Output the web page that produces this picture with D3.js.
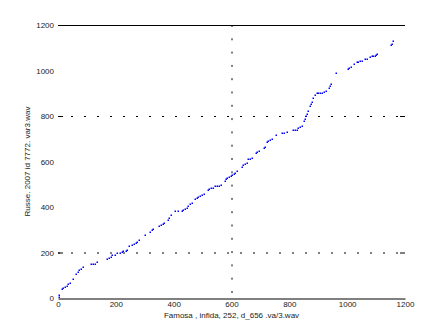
<!DOCTYPE html>
<html>
<head>
<meta charset="utf-8">
<script src="https://cdn.jsdelivr.net/npm/d3@7"></script>
<style>
  body { margin: 0; background: #fff; }
  text { font-family: "Liberation Sans", Arial, sans-serif; }
</style>
</head>
<body>
<div id="chart"></div>
<script>
var svgWidth = 447;
var svgHeight = 335;

// quantile values
var xValues = [3, 3, 13, 18, 24, 30, 35, 41, 53, 61, 68, 73, 80, 86, 114, 121, 128, 136,
  170, 176, 182, 188, 197, 203, 214, 220, 226, 234, 238, 246, 255, 263, 269, 273, 280,
  301, 318, 324, 330, 350, 355, 362, 368, 381, 385, 392, 405, 415, 428, 433, 439, 445,
  451, 456, 462, 474, 480, 485, 491, 498, 505, 518, 523, 529, 535, 543, 550, 558, 565,
  576, 581, 586, 592, 597, 602, 607, 612, 618, 635, 641, 647, 653, 658, 664, 670, 684,
  689, 696, 713, 716, 722, 727, 733, 739, 754, 776, 782, 791, 812, 819, 825, 830, 837,
  843, 851, 854, 858, 860, 866, 871, 875, 878, 883, 889, 895, 900, 906, 912, 920, 928,
  938, 941, 945, 961, 1002, 1006, 1012, 1025, 1033, 1038, 1046, 1050, 1063, 1067, 1079,
  1085, 1090, 1096, 1100, 1104, 1150, 1155, 1160];
var yValues = [6, 12, 40, 45, 50, 54, 60, 65, 82, 106, 116, 123, 129, 135, 150, 150, 150, 157,
  170, 175, 179, 189, 189, 199, 199, 202, 205, 205, 212, 227, 233, 237, 242, 246, 255,
  275, 291, 298, 303, 317, 321, 324, 330, 343, 350, 364, 381, 381, 381, 387, 391, 397,
  404, 412, 418, 434, 438, 443, 447, 453, 456, 473, 479, 482, 485, 492, 492, 492, 498,
  516, 521, 526, 531, 536, 541, 546, 551, 560, 577, 585, 589, 595, 610, 611, 617, 636,
  641, 645, 659, 665, 687, 691, 696, 700, 717, 724, 727, 728, 740, 740, 740, 747, 753,
  757, 776, 788, 798, 809, 822, 844, 853, 863, 878, 892, 900, 900, 900, 903, 907, 912,
  922, 932, 939, 988, 1005, 1011, 1017, 1027, 1036, 1036, 1042, 1042, 1049, 1049, 1058,
  1064, 1064, 1064, 1067, 1073, 1112, 1117, 1128];

var tickValues = [0, 200, 400, 600, 800, 1000, 1200];
var gridY = [200, 800];
var gridX = [600];

var xLabel = "Famosa , infida, 252, d_656 .va/3.wav";
var yLabel = "Russe. 2007 id 7772. var3.wav";

var svg = d3.select("#chart")
  .append("svg")
  .attr("width", svgWidth)
  .attr("height", svgHeight);

var x = d3.scaleLinear().domain([0, 1200]).range([58, 405]);
var y = d3.scaleLinear().domain([0, 1200]).range([298, 25]);

// dotted grid lines
svg.selectAll(".gy")
  .data(gridY)
  .enter()
  .append("line")
  .attr("x1", x(0))
  .attr("x2", x(1200))
  .attr("y1", d => y(d) + 0.5)
  .attr("y2", d => y(d) + 0.5)
  .attr("stroke", "#000")
  .attr("stroke-dasharray", "2,11");

svg.selectAll(".gx")
  .data(gridX)
  .enter()
  .append("line")
  .attr("x1", d => x(d) + 0.5)
  .attr("x2", d => x(d) + 0.5)
  .attr("y1", y(1200))
  .attr("y2", y(0))
  .attr("stroke", "#000")
  .attr("stroke-dasharray", "2,11.3");

// short tick marks on grid lines
gridY.forEach(function(v) {
  svg.append("line").attr("x1", x(0)).attr("x2", x(0) + 5)
    .attr("y1", y(v) + 0.5).attr("y2", y(v) + 0.5).attr("stroke", "#000");
  svg.append("line").attr("x1", x(1200) - 5).attr("x2", x(1200))
    .attr("y1", y(v) + 0.5).attr("y2", y(v) + 0.5).attr("stroke", "#000");
});

// top border line
svg.append("line")
  .attr("x1", x(0)).attr("x2", x(1200))
  .attr("y1", y(1200) + 0.5).attr("y2", y(1200) + 0.5)
  .attr("stroke", "#000");

// x axis
var xAxis = svg.append("g")
  .attr("transform", `translate(0, ${y(0) + 0.5})`)
  .call(d3.axisBottom(x).tickValues(tickValues).tickSize(0).tickSizeOuter(0).tickPadding(3).tickFormat(d3.format("d")));
xAxis.select(".domain").attr("stroke", "#000").attr("stroke-width", 1);
xAxis.selectAll("text").attr("font-size", "8px").attr("fill", "#222")
  .style("font-family", "Liberation Sans, Arial, sans-serif");

// y axis
var yAxis = svg.append("g")
  .attr("transform", `translate(${x(0)}, 0)`)
  .call(d3.axisLeft(y).tickValues(tickValues).tickSize(0).tickPadding(4).tickFormat(d3.format("d")));
yAxis.select(".domain").remove();
yAxis.selectAll("text").attr("font-size", "8px").attr("fill", "#222")
  .style("font-family", "Liberation Sans, Arial, sans-serif");

// points
var pts = d3.range(xValues.length).map(i => ({ x: xValues[i], y: yValues[i] }));
svg.selectAll(".pt")
  .data(pts)
  .enter()
  .append("rect")
  .attr("x", d => Math.round(x(d.x)) - 0.5)
  .attr("y", d => Math.round(y(d.y)) - 0.5)
  .attr("width", 1.5)
  .attr("height", 1.5)
  .attr("fill", "#0000ff");

// axis labels
svg.append("text")
  .attr("x", x(600))
  .attr("y", 318)
  .attr("text-anchor", "middle")
  .attr("font-size", "8px")
  .attr("fill", "#222")
  .text(xLabel);

svg.append("text")
  .attr("transform", `translate(30, ${(y(0) + y(1200)) / 2}) rotate(-90)`)
  .attr("text-anchor", "middle")
  .attr("font-size", "8px")
  .attr("fill", "#222")
  .text(yLabel);
</script>
</body>
</html>
